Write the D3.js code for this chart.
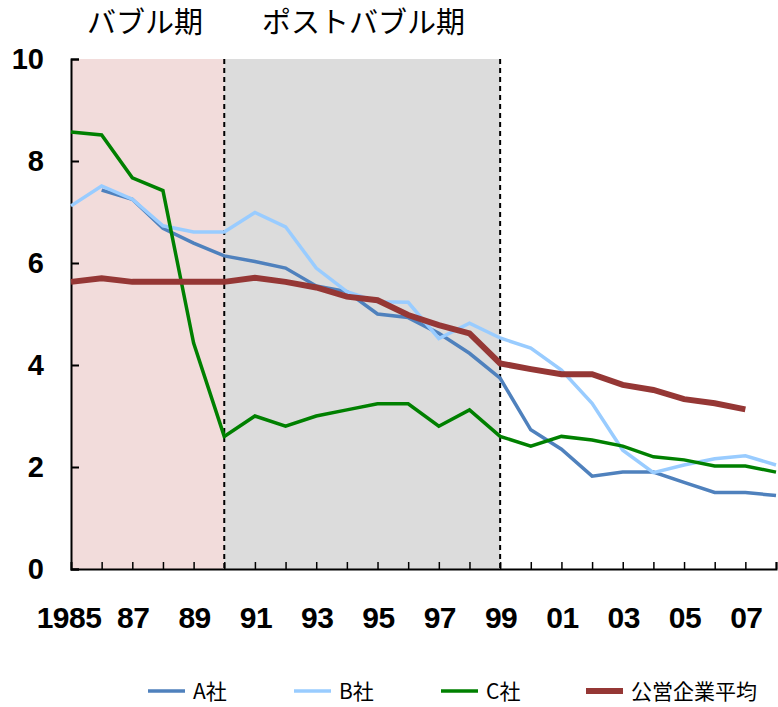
<!DOCTYPE html>
<html>
<head>
<meta charset="utf-8">
<script src="https://cdn.jsdelivr.net/npm/d3@7"></script>
<style>
  body { margin: 0; background: #fff; }
  svg { display: block; }
</style>
</head>
<body>
<div id="chart"></div>
<script>
// data
var years = d3.range(1985, 2009);
var tickLabels = ["1985", "87", "89", "91", "93", "95", "97", "99", "01", "03", "05", "07"];
var yTicks = [0, 2, 4, 6, 8, 10];

var seriesA = [null, 7.43, 7.25, 6.68, 6.39, 6.14, 6.03, 5.9, 5.55, 5.44, 5.0, 4.93,
               4.62, 4.23, 3.74, 2.73, 2.35, 1.82, 1.9, 1.9, 1.7, 1.5, 1.5, 1.44];
var seriesB = [7.12, 7.51, 7.25, 6.73, 6.61, 6.61, 6.99, 6.71, 5.9, 5.44, 5.24, 5.23,
               4.52, 4.82, 4.53, 4.33, 3.9, 3.25, 2.33, 1.89, 2.04, 2.16, 2.22, 2.04];
var seriesC = [8.57, 8.51, 7.67, 7.42, 4.43, 2.6, 3.0, 2.8, 3.0, 3.12, 3.24, 3.24,
               2.8, 3.12, 2.6, 2.41, 2.6, 2.53, 2.41, 2.2, 2.14, 2.02, 2.02, 1.9];
var seriesAvg = [5.63, 5.7, 5.63, 5.63, 5.63, 5.63, 5.71, 5.63, 5.52, 5.34, 5.27, 4.98,
                 4.78, 4.62, 4.03, 3.92, 3.82, 3.82, 3.61, 3.51, 3.33, 3.25, 3.13, null];

var seriesNames = ["A社", "B社", "C社", "公営企業平均"];
var periods = [
  {name: "バブル期", from: 1985, to: 1990},
  {name: "ポストバブル期", from: 1990, to: 1999}
];

var width = 778;
var height = 707;

var x = d3.scaleLinear().domain([1985, 2008]).range([71, 776]);
var y = d3.scaleLinear().domain([0, 10]).range([569, 59]);

var svg = d3.select("#chart").append("svg")
    .attr("width", width)
    .attr("height", height);

// period bands
var bandColor = ["#f2dcdb", "#dcdcdc"];
svg.selectAll("rect.band")
    .data(periods)
  .enter().append("rect")
    .attr("class", "band")
    .attr("x", function(d) { return x(d.from); })
    .attr("y", y(10))
    .attr("width", function(d) { return x(d.to) - x(d.from); })
    .attr("height", y(0) - y(10))
    .style("fill", function(d, i) { return bandColor[i]; });

svg.selectAll("text.period")
    .data(periods)
  .enter().append("text")
    .attr("class", "period")
    .attr("x", function(d, i) { return i == 0 ? 87 : 262; })
    .attr("y", 33)
    .style("font-family", "'Noto Sans CJK JP', sans-serif")
    .style("font-size", "29px")
    .style("fill", "#000")
    .text(function(d) { return d.name; });

// dashed boundaries
svg.selectAll("line.divider")
    .data([1990, 1999])
  .enter().append("line")
    .attr("x1", function(d) { return x(d); })
    .attr("x2", function(d) { return x(d); })
    .attr("y1", y(10))
    .attr("y2", y(0))
    .style("stroke", "#000")
    .style("stroke-width", 2)
    .style("stroke-dasharray", "5,4");

// axes
var yAxis = d3.axisRight(y).tickValues(yTicks).tickSize(8).tickFormat("");
svg.append("g")
    .attr("transform", "translate(" + x(1985) + ",0)")
    .call(yAxis)
    .call(function(g) {
      g.select(".domain").style("stroke-width", 2);
      g.selectAll(".tick line").style("stroke-width", 2);
    });

svg.selectAll("text.ylab")
    .data(yTicks)
  .enter().append("text")
    .attr("class", "ylab")
    .attr("x", 44)
    .attr("y", function(d) { return y(d) + 10; })
    .attr("text-anchor", "end")
    .style("font-family", "'Liberation Sans', Arial, sans-serif")
    .style("font-weight", "bold")
    .style("font-size", "29px")
    .text(function(d) { return d; });

var xAxis = d3.axisTop(x).tickValues(years.slice(1)).tickSize(7).tickFormat("");
svg.append("g")
    .attr("transform", "translate(0," + y(0) + ")")
    .call(xAxis)
    .call(function(g) {
      g.select(".domain").style("stroke-width", 2);
      g.selectAll(".tick line").style("stroke-width", 1.5);
    });

svg.selectAll("text.xlab")
    .data(tickLabels)
  .enter().append("text")
    .attr("class", "xlab")
    .attr("x", function(d, i) { return x(1985 + i * 2) + (i == 0 ? -2 : 1); })
    .attr("y", 628)
    .attr("text-anchor", "middle")
    .style("font-family", "'Liberation Sans', Arial, sans-serif")
    .style("font-weight", "bold")
    .style("font-size", "30px")
    .style("letter-spacing", "-0.5px")
    .text(function(d) { return d; });

// lines
var series = [seriesA, seriesB, seriesC, seriesAvg];
var colors = ["#4f81bd", "#99ccff", "#008000", "#953735"];
var widths = [3.5, 3.5, 3.5, 6];

var line = d3.line()
    .defined(function(d) { return d != null; })
    .x(function(d, i) { return x(years[i]); })
    .y(function(d) { return y(d); });

svg.selectAll("path.series")
    .data(series)
  .enter().append("path")
    .attr("class", "series")
    .attr("d", line)
    .style("fill", "none")
    .style("stroke", function(d, i) { return colors[i]; })
    .style("stroke-width", function(d, i) { return widths[i]; });

// legend
var legendX = [148, 294, 441, 586];
var legend = svg.selectAll("g.legend")
    .data(seriesNames)
  .enter().append("g")
    .attr("class", "legend")
    .attr("transform", function(d, i) { return "translate(" + legendX[i] + ",691)"; });

legend.append("line")
    .attr("x1", 0)
    .attr("x2", 37)
    .style("stroke", function(d, i) { return colors[i]; })
    .style("stroke-width", function(d, i) { return widths[i]; });

legend.append("text")
    .attr("x", 45)
    .attr("y", 8)
    .style("font-family", "'Noto Sans CJK JP', sans-serif")
    .style("font-size", "21px")
    .text(function(d) { return d; });
</script>
</body>
</html>
